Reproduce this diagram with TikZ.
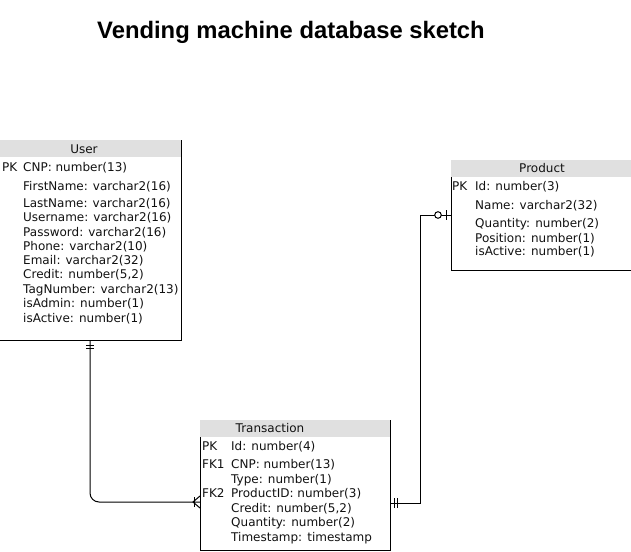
\documentclass[tikz,border=0pt]{standalone}
\usepackage{fontspec}
\setmainfont{DejaVu Sans}
\newfontfamily\titlefont{Liberation Sans}
\definecolor{hdrgray}{HTML}{E0E0E0}
\definecolor{txt}{HTML}{111111}
\begin{document}
\begin{tikzpicture}[x=1pt,y=-1pt,
  tbl/.style={draw=none,rectangle,inner sep=0pt,outer sep=0pt,anchor=north west},
  border/.style={line width=1pt,black},
  cell/.style={anchor=west,inner sep=0pt,yshift=-1.5pt,font=\fontsize{12}{12}\selectfont,text=txt,text height=9pt,text depth=3pt},
  hcell/.style={cell,anchor=center},
  conn/.style={line width=1pt,black},
  ermark/.style={line width=1pt,black}
]
\useasboundingbox (0,0) rectangle (631,551);
% title
\node[font=\titlefont\bfseries\fontsize{23.8}{24}\selectfont,anchor=center] (title) at (291,32) {Vending machine database sketch};

% ---------- User ----------
\node[tbl,minimum width=182pt,minimum height=200pt] (user) at (-1,140) {};
\fill[hdrgray] (user.north west) rectangle ([yshift=-17pt]user.north east);
\draw[border] (user.north east) -- (user.south east) -- (user.south west) -- ([yshift=-17pt]user.north west);
\node[hcell] (uh) at (84,149) {User};
\node[cell] (u1k) at (2,167) {PK};
\node[cell] (u1) at (23,167) {CNP: number(13)};
\node[cell] (u2) at (23,186) {FirstName: varchar2(16)};
\node[cell] (u3) at (23,203) {LastName: varchar2(16)};
\node[cell] (u4) at (23,217) {Username: varchar2(16)};
\node[cell] (u5) at (23,232) {Password: varchar2(16)};
\node[cell] (u6) at (23,246) {Phone: varchar2(10)};
\node[cell] (u7) at (23,260) {Email: varchar2(32)};
\node[cell] (u8) at (23,274) {Credit: number(5,2)};
\node[cell] (u9) at (23,289) {TagNumber: varchar2(13)};
\node[cell] (u10) at (23,303) {isAdmin: number(1)};
\node[cell] (u11) at (23,318) {isActive: number(1)};

% ---------- Product ----------
\node[tbl,minimum width=182pt,minimum height=110pt] (prod) at (451,160) {};
\fill[hdrgray] (prod.north west) rectangle ([yshift=-17pt]prod.north east);
\draw[border] (prod.north east) -- (prod.south east) -- (prod.south west) -- ([yshift=-17pt]prod.north west);
\node[hcell] (ph) at (542,168) {Product};
\node[cell] (p1k) at (452,186) {PK};
\node[cell] (p1) at (475,186) {Id: number(3)};
\node[cell] (p2) at (475,205) {Name: varchar2(32)};
\node[cell] (p3) at (475,223) {Quantity: number(2)};
\node[cell] (p4) at (475,238) {Position: number(1)};
\node[cell] (p5) at (475,251) {isActive: number(1)};

% ---------- Transaction ----------
\node[tbl,minimum width=190pt,minimum height=130pt] (trans) at (200,420) {};
\fill[hdrgray] (trans.north west) rectangle ([yshift=-17pt]trans.north east);
\draw[border] (trans.north east) -- (trans.south east) -- (trans.south west) -- ([yshift=-17pt]trans.north west);
\node[hcell] (th) at (270,428) {Transaction};
\node[cell] (t1k) at (202,446) {PK};
\node[cell] (t1) at (231,446) {Id: number(4)};
\node[cell] (t2k) at (202,464) {FK1};
\node[cell] (t2) at (231,464) {CNP: number(13)};
\node[cell] (t3) at (231,479) {Type: number(1)};
\node[cell] (t4k) at (202,493) {FK2};
\node[cell] (t4) at (231,493) {ProductID: number(3)};
\node[cell] (t5) at (231,508) {Credit: number(5,2)};
\node[cell] (t6) at (231,522) {Quantity: number(2)};
\node[cell] (t7) at (231,537) {Timestamp: timestamp};

% ---------- connectors ----------
\coordinate (uS) at (90,340);
\coordinate (tW) at (200,502);
\coordinate (tE) at (390,503);
\coordinate (pW) at (451,215);

% User -- Transaction
\draw[conn,rounded corners=9pt] (uS) |- (tW);
\draw[ermark] (86,345) -- (94,345);
\draw[ermark] (86,348) -- (94,348);
\draw[ermark] (194,497) -- (194,507);
\draw[ermark] (200,496) -- (193,502) -- (200,508);

% Transaction -- Product
\draw[conn] (tE) -- ++(30,0) |- (pW);
\draw[ermark] (394,498) -- (394,508);
\draw[ermark] (397,498) -- (397,508);
\draw[ermark,fill=white] (438,215) circle (3.3pt);
\draw[ermark] (446,210) -- (446,220);
\end{tikzpicture}
\end{document}
